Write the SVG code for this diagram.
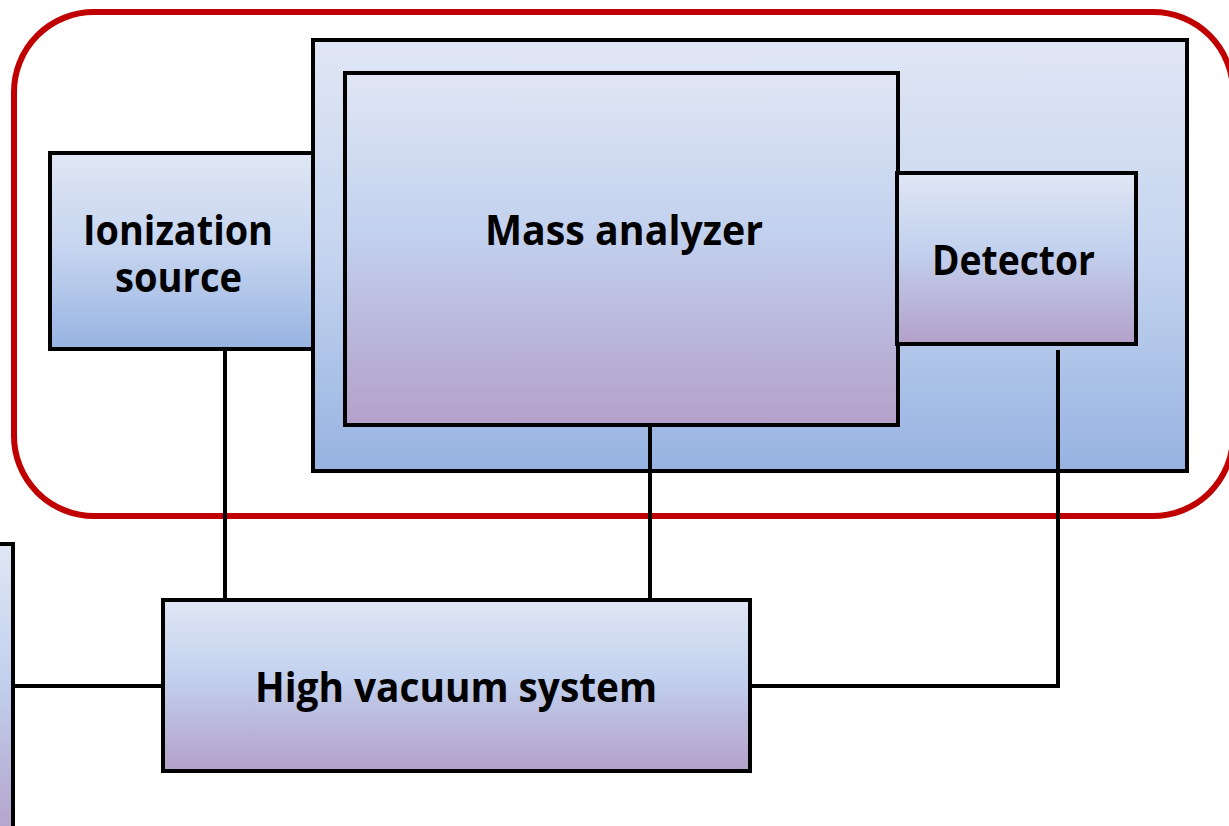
<svg xmlns="http://www.w3.org/2000/svg" width="1229" height="826" viewBox="0 0 1229 826">
  <defs>
    <linearGradient id="gBlue" x1="0" y1="0" x2="0" y2="1">
      <stop offset="0" stop-color="#e0e6f4"/>
      <stop offset="0.5" stop-color="#c5d4ef"/>
      <stop offset="1" stop-color="#97b3e2"/>
    </linearGradient>
    <linearGradient id="gPurple" x1="0" y1="0" x2="0" y2="1">
      <stop offset="0" stop-color="#e0e6f4"/>
      <stop offset="0.45" stop-color="#c2d1ee"/>
      <stop offset="1" stop-color="#b3a0c8"/>
    </linearGradient>
    <style>
      .box { stroke: #000; stroke-width: 4; }
      .blue { fill: url(#gBlue); }
      .purple { fill: url(#gPurple); }
      .lbl { font-family: "Open Sans", "Liberation Sans", sans-serif; font-weight: bold; font-size: 42px; fill: #000; }
      .conn { stroke: #000; stroke-width: 4; fill: none; }
    </style>
  </defs>
  <rect width="1229" height="826" fill="#ffffff"/>

  <g id="enclosure">
    <rect x="14" y="12" width="1219" height="504" rx="80" ry="80" fill="none" stroke="#c00000" stroke-width="6"/>
  </g>

  <g id="vacuum-housing">
    <rect class="box blue" x="313" y="40" width="874" height="431"/>
  </g>

  <g id="ionization-source">
    <rect class="box blue" x="50" y="153" width="263" height="196"/>
    <text class="lbl" x="83" y="245" textLength="190" lengthAdjust="spacingAndGlyphs">Ionization</text>
    <text class="lbl" x="115" y="292" textLength="127" lengthAdjust="spacingAndGlyphs">source</text>
  </g>

  <g id="mass-analyzer">
    <rect class="box purple" x="345" y="73" width="553" height="352"/>
    <text class="lbl" x="485" y="245" textLength="278" lengthAdjust="spacingAndGlyphs">Mass analyzer</text>
  </g>

  <g id="detector">
    <rect class="box purple" x="897" y="173" width="239" height="171"/>
    <text class="lbl" x="932" y="275" textLength="163" lengthAdjust="spacingAndGlyphs">Detector</text>
  </g>

  <g id="connectors">
    <line class="conn" x1="225" y1="349" x2="225" y2="600"/>
    <line class="conn" x1="650" y1="425" x2="650" y2="600"/>
    <polyline class="conn" points="1058,350 1058,686 750,686"/>
    <line class="conn" x1="13" y1="686" x2="163" y2="686"/>
  </g>

  <g id="high-vacuum-system">
    <rect class="box purple" x="163" y="600" width="587" height="171"/>
    <text class="lbl" x="255" y="702" textLength="402" lengthAdjust="spacingAndGlyphs">High vacuum system</text>
  </g>

  <g id="left-box">
    <rect class="box purple" x="-10" y="544" width="23" height="300"/>
  </g>
</svg>
